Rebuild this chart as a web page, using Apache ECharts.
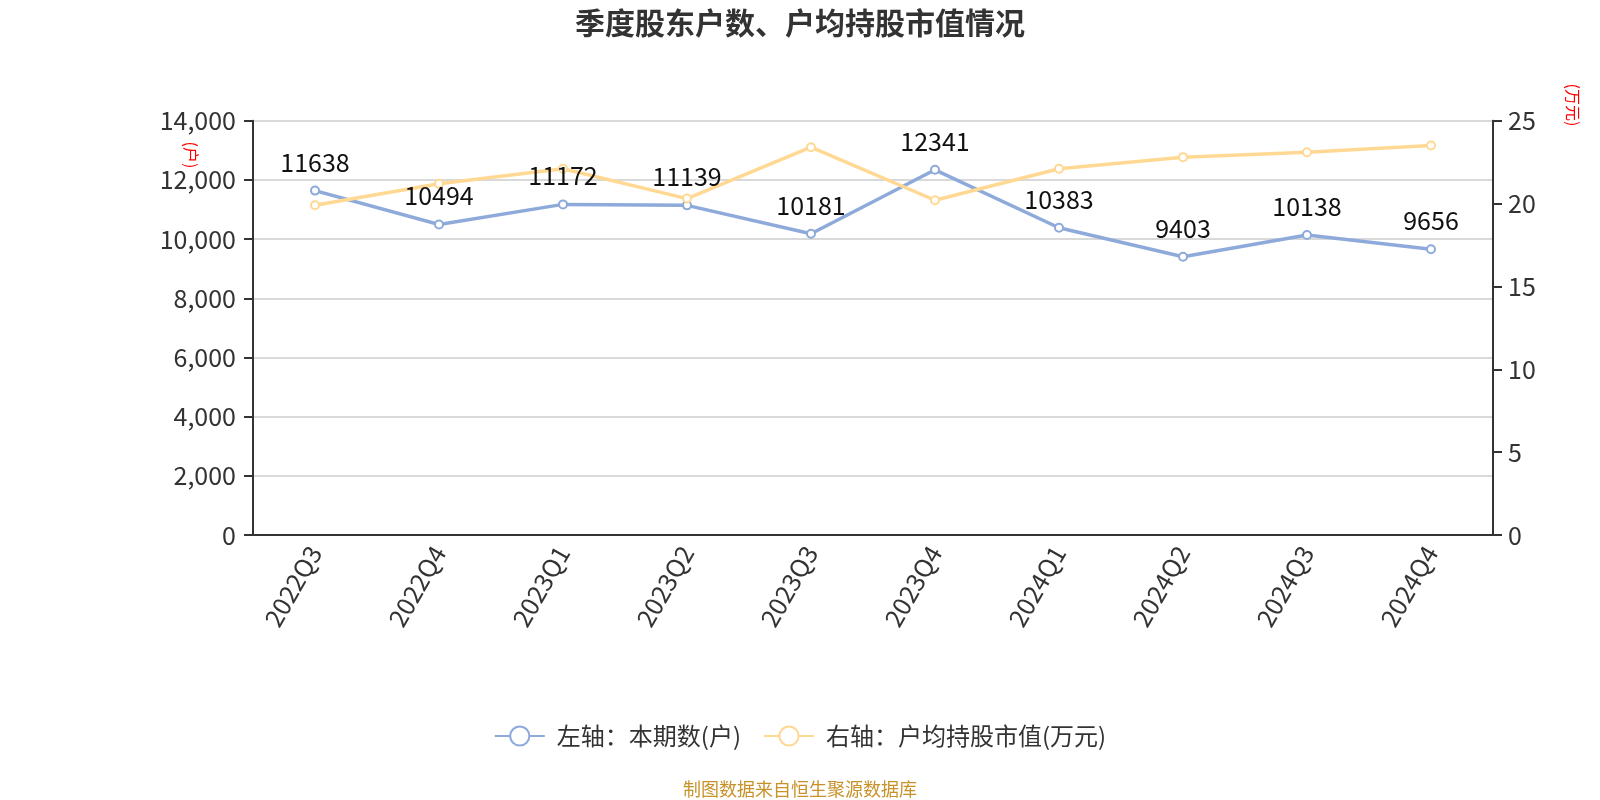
<!DOCTYPE html>
<html>
<head>
<meta charset="utf-8">
<script src="https://cdn.jsdelivr.net/npm/echarts@6/dist/echarts.min.js"></script>
<style>
html,body{margin:0;padding:0;background:#fff;}
#c{width:1600px;height:800px;}
</style>
</head>
<body>
<div id="c"></div>
<script>
const categories = ['2022Q3','2022Q4','2023Q1','2023Q2','2023Q3','2023Q4','2024Q1','2024Q2','2024Q3','2024Q4'];
const holders = [11638,10494,11172,11139,10181,12341,10383,9403,10138,9656];
const avgValue = [19.9,21.2,22.1,20.3,23.4,20.2,22.1,22.8,23.1,23.5];
const leftTicks = {min:0, max:14000, interval:2000};
const rightTicks = {min:0, max:25, interval:5};

const FONT = '"Noto Sans CJK SC","Noto Sans",sans-serif';
const chart = echarts.init(document.getElementById('c'));
chart.setOption({
  backgroundColor:'#fff',
  textStyle:{fontFamily:FONT},
  title:{
    text:'季度股东户数、户均持股市值情况',
    left:'center', top:3,
    textStyle:{fontSize:30, fontWeight:'bold', color:'#333', fontFamily:FONT}
  },
  legend:{
    left:'center', top:719,
    itemWidth:50, itemHeight:24, itemGap:22,
    textStyle:{fontSize:24, color:'#333', fontFamily:FONT, padding:[0,0,0,7]},
    data:['左轴：本期数(户)','右轴：户均持股市值(万元)']
  },
  graphic:[{
    type:'text', left:'center', top:780,
    style:{text:'制图数据来自恒生聚源数据库', fill:'#c8922a', font:'18px "Noto Sans CJK SC"'}
  },{
    type:'text', x:191.5, y:155, rotation:-Math.PI/2,
    style:{text:'(户)', fill:'#ff0000', font:'16px "Noto Sans CJK SC"', align:'center', verticalAlign:'middle'}
  },{
    type:'text', x:1573, y:105, rotation:-Math.PI/2,
    style:{text:'(万元)', fill:'#ff0000', font:'16px "Noto Sans CJK SC"', align:'center', verticalAlign:'middle'}
  }],
  grid:{left:253, right:107, top:120.7, bottom:265},
  xAxis:{
    type:'category', data:categories, boundaryGap:true,
    axisLine:{lineStyle:{color:'#333', width:2}},
    axisTick:{length:9, lineStyle:{color:'#333', width:2}},
    axisLabel:{rotate:60, interval:0, fontSize:25, color:'#333', margin:13, fontFamily:FONT}
  },
  yAxis:[{
    type:'value', min:leftTicks.min, max:leftTicks.max, interval:leftTicks.interval,
    axisLine:{show:true, lineStyle:{color:'#333', width:2}},
    axisTick:{show:true, length:9, lineStyle:{color:'#333', width:2}},
    axisLabel:{fontSize:25, color:'#333', margin:17, fontFamily:FONT,
      formatter:v=>v.toLocaleString('en-US')},
    splitLine:{show:true, lineStyle:{color:'#ccc', width:1.5}}
  },{
    type:'value', position:'right', min:rightTicks.min, max:rightTicks.max, interval:rightTicks.interval,
    axisLine:{show:true, lineStyle:{color:'#333', width:2}},
    axisTick:{show:true, length:9, lineStyle:{color:'#333', width:2}},
    axisLabel:{fontSize:25, color:'#333', margin:15, fontFamily:FONT},
    splitLine:{show:false}
  }],
  series:[{
    name:'左轴：本期数(户)', type:'line', yAxisIndex:0, data:holders,
    symbol:'emptyCircle', symbolSize:8,
    itemStyle:{color:'#8eaadb', borderWidth:2},
    lineStyle:{color:'#8eaadb', width:3.5},
    label:{show:true, position:'top', distance:11, fontSize:25, color:'#111', fontFamily:FONT}
  },{
    name:'右轴：户均持股市值(万元)', type:'line', yAxisIndex:1, data:avgValue,
    symbol:'emptyCircle', symbolSize:8,
    itemStyle:{color:'#ffd993', borderWidth:2},
    lineStyle:{color:'#ffd993', width:3.5}
  }]
});
</script>
</body>
</html>
